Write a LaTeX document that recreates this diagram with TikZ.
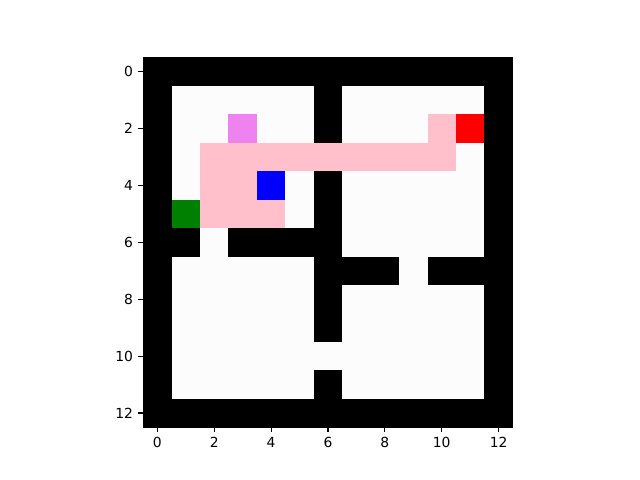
\documentclass[tikz,border=0pt]{standalone}
\usepackage{fontspec}
\setmainfont{DejaVu Sans}
\definecolor{cellwhite}{RGB}{252,252,252}
\definecolor{pathpink}{HTML}{FFC0CB}
\definecolor{violetc}{HTML}{EE82EE}
\definecolor{greenc}{HTML}{008000}
\tikzset{
  tickline/.style={line width=0.8pt,black},
  ticklab/.style={font=\fontsize{10}{12}\selectfont,inner sep=0pt},
}
\begin{document}
\begin{tikzpicture}[x=0.72pt,y=-0.72pt]
\useasboundingbox[fill=white] (0,0) rectangle (640,480);
\begin{scope}[shift={(143.2,57.6)},x=20.47pt,y=-20.47pt]
  % background walls
  \fill[black] (0,0) rectangle (13,13);
  % free cells
  \foreach \r/\a/\b in {1/1/5,1/7/11,2/1/5,2/7/11,3/1/11,4/1/5,4/7/11,5/1/5,5/7/11,6/2/2,6/7/11,7/1/5,7/9/9,8/1/5,8/7/11,9/1/5,9/7/11,10/1/11,11/1/5,11/7/11}{
    \fill[cellwhite] (\a,\r) rectangle ({\b+1},{\r+1});
  }
  % path
  \foreach \r/\a/\b in {2/10/10,3/2/10,4/2/3,5/2/4}{
    \fill[pathpink] (\a,\r) rectangle ({\b+1},{\r+1});
  }
  \fill[violetc] (3,2) rectangle (4,3);
  \fill[red] (11,2) rectangle (12,3);
  \fill[blue] (4,4) rectangle (5,5);
  \fill[greenc] (1,5) rectangle (2,6);
  % frame
  \draw[line width=0.8pt] (0,0) rectangle (13,13);
  % ticks
  \foreach \i in {0,2,...,12}{
    \draw[tickline] ({\i+0.5},13) -- ++(0,-3.5pt) node[ticklab,anchor=north,yshift=-3.5pt] (xl\i) {\i};
    \draw[tickline] (0,{\i+0.5}) -- ++(-3.5pt,0) node[ticklab,anchor=east,xshift=-3.5pt] (yl\i) {\i};
  }
\end{scope}
\end{tikzpicture}
\end{document}
